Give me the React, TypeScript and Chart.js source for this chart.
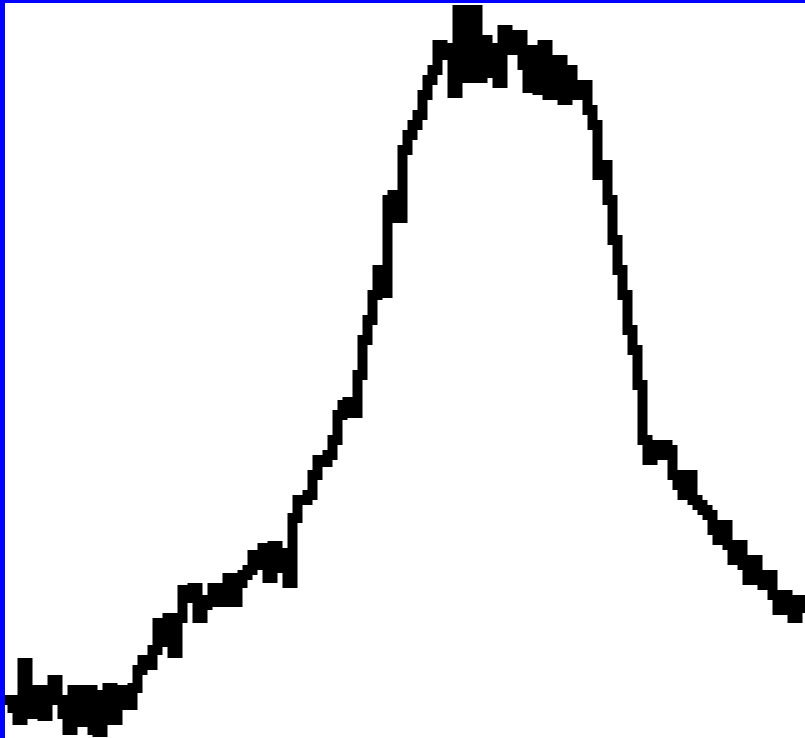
import React, { useEffect, useRef } from "react";
import { Chart, registerables } from "chart.js";

Chart.register(...registerables);

// Channel positions (horizontal axis, arbitrary units)
const channels: number[] = [
  0, 5, 10, 15, 20, 25, 30, 35, 40, 45, 50, 55, 60, 65, 70, 75, 80, 85, 90, 95,
  100, 105, 110, 115, 120, 125, 130, 135, 140, 145, 150, 155, 160, 165, 170, 175, 180, 185, 190, 195,
  200, 205, 210, 215, 220, 225, 230, 235, 240, 245, 250, 255, 260, 265, 270, 275, 280, 285, 290, 295,
  300, 305, 310, 315, 320, 325, 330, 335, 340, 345, 350, 355, 360, 365, 370, 375, 380, 385, 390, 395,
  400, 405, 410, 415, 420, 425, 430, 435, 440, 445, 450, 455, 460, 465, 470, 475, 480, 485, 490, 495,
  500, 505, 510, 515, 520, 525, 530, 535, 540, 545, 550, 555, 560, 565, 570, 575, 580, 585, 590, 595,
  600, 605, 610, 615, 620, 625, 630, 635, 640, 645, 650, 655, 660, 665, 670, 675, 680, 685, 690, 695,
  700, 705, 710, 715, 720, 725, 730, 735, 740, 745, 750, 755, 760, 765, 770, 775, 780, 785, 790, 795, 800,
];

// Signal counts
const counts: number[] = [
  38, 38, 30, 18, 75, 36, 24, 48, 22, 46, 58, 38, 24, 8, 48, 38, 16, 48, 8, 6,
  43, 50, 18, 38, 48, 33, 50, 68, 78, 73, 88, 115, 96, 120, 85, 120, 148, 140, 150, 120,
  133, 138, 150, 136, 145, 160, 136, 155, 163, 168, 183, 173, 190, 160, 192, 170, 185, 155, 220, 238,
  238, 243, 263, 278, 276, 283, 298, 323, 333, 336, 325, 363, 398, 418, 443, 468, 445, 538, 543, 520,
  588, 603, 613, 623, 643, 658, 668, 693, 690, 683, 645, 728, 660, 688, 728, 660, 698, 665, 690, 655,
  708, 698, 688, 703, 673, 650, 688, 648, 693, 643, 663, 678, 638, 668, 648, 643, 653, 628, 613, 563,
  573, 538, 498, 468, 443, 408, 388, 353, 298, 278, 293, 283, 293, 288, 263, 253, 243, 263, 238, 233,
  228, 223, 208, 198, 213, 193, 178, 193, 173, 158, 178, 158, 153, 163, 143, 128, 143, 138, 120, 138, 130,
];

export default function App() {
  const ref = useRef<HTMLCanvasElement | null>(null);

  useEffect(() => {
    if (!ref.current) return;
    const chart = new Chart(ref.current, {
      type: "line",
      data: {
        datasets: [
          {
            data: channels.map((c, i) => ({ x: c, y: counts[i] })),
            borderColor: "#000000",
            borderWidth: 10,
            pointRadius: 0,
            stepped: "middle",
            borderJoinStyle: "miter",
            borderCapStyle: "butt",
            fill: false,
            tension: 0,
          },
        ],
      },
      options: {
        animation: false,
        responsive: true,
        maintainAspectRatio: false,
        layout: { padding: 0 },
        plugins: { legend: { display: false }, tooltip: { enabled: false } },
        scales: {
          x: { type: "linear", min: 0, max: 800, display: false },
          y: { type: "linear", min: 0, max: 735, display: false },
        },
      },
    });
    return () => chart.destroy();
  }, []);

  return (
    <div
      style={{
        position: "absolute",
        left: 0,
        top: 0,
        width: 805,
        height: 738,
        boxSizing: "border-box",
        borderLeft: "5px solid #0000ff",
        borderTop: "3px solid #0000ff",
        background: "#ffffff",
      }}
    >
      <div style={{ position: "relative", width: 800, height: 735 }}>
        <canvas ref={ref} />
      </div>
    </div>
  );
}
